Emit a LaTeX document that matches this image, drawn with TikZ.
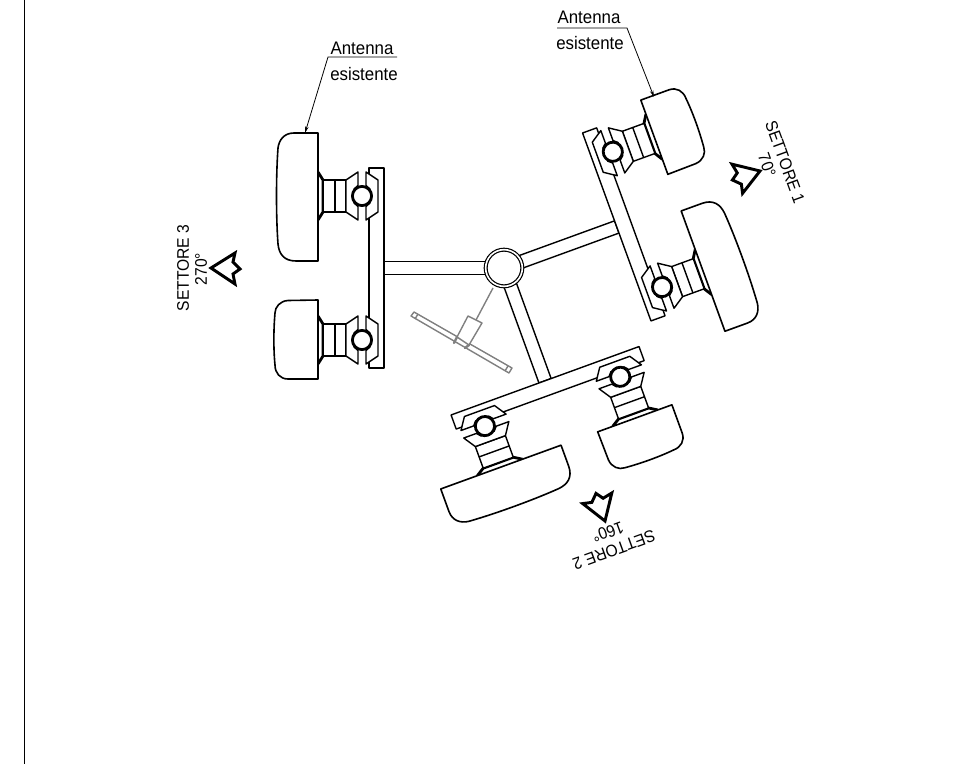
\documentclass[tikz,border=0pt]{standalone}
\usepackage{fontspec}
\setmainfont[FakeStretch=0.93]{Liberation Sans}
\usetikzlibrary{arrows.meta}
\tikzset{
  lbl/.style={inner sep=0pt,font=\fontsize{13.6}{15}\selectfont},
  smalllbl/.style={inner sep=0pt,font=\fontsize{12.6}{14}\selectfont},
  med/.style={line width=1.05pt,black,line join=round},
  panel/.style={line width=1.2pt,black,fill=white,line join=round},
  thick1/.style={line width=2.1pt,black,line join=round},
  grey1/.style={line width=1.05pt,black!50,line join=round},
  leader/.style={line width=0.6pt,black,-{Stealth[length=5pt,width=2.6pt]}},
  marker/.style={line width=2.2pt,black,line join=miter,miter limit=4},
}
% one bracket and neck, origin at the pole clamp ring
\newcommand{\clampunit}{%
  \draw[thick1] (-44,-24) -- (-39,-16) -- (-39,16) -- (-44,24);
  \draw[med,fill=white] (-39,-16) rectangle (-16,16);
  \draw[med] (-27,-16) -- (-27,16);
  \draw[med,fill=white] (-16,-16) -- (-4,-24) -- (-4,-10.5) -- (-8,-7) -- (-8,7) -- (-4,10.5) -- (-4,24) -- (-16,16) -- cycle;
  \draw[med,fill=white] (4,-24) -- (16,-16) -- (16,16) -- (4,24) -- (4,10.5) -- (8,7) -- (8,-7) -- (4,-10.5) -- cycle;
  \draw[thick1,fill=white] (0,0) circle (9.6);
}
\newcommand{\sectorarm}{%
  \draw[med,fill=white] (-120,-6.5) rectangle (-15,6.5);
  \draw[med,fill=white] (-135,-100) rectangle (-120,100);
  \begin{scope}[shift={(-142,-72)}]
    \clampunit
    \draw[panel] (-44,-63) -- (-68,-63) .. controls (-78,-63) and (-83,-56) .. (-84,-48)
      .. controls (-86,-20) and (-86,20) .. (-84,48)
      .. controls (-83,58) and (-78,65) .. (-66,65) -- (-44,65) -- cycle;
  \end{scope}
  \begin{scope}[shift={(-142,72)}]
    \clampunit
    \draw[panel] (-44,-40) -- (-74,-39.5) .. controls (-82,-39) and (-87,-33) .. (-87,-27)
      .. controls (-88.5,-10) and (-88.5,10) .. (-87,25)
      .. controls (-87,33) and (-82,39) .. (-74,39) -- (-44,39) -- cycle;
  \end{scope}
}
\newcommand{\markershape}{%
  \draw[marker] (0,0) -- (24,-15) -- (22,-6) -- (29,1) -- (22,6) -- (24,16) -- cycle;
}
\begin{document}
\begin{tikzpicture}[x=0.75pt,y=-0.75pt]
\useasboundingbox (0,0) rectangle (976,764);
\coordinate (bt) at (24,0);
\coordinate (bb) at (24,764);
\draw[line width=0.7pt] (bt) -- (bb);
\coordinate (mast) at (504,268);

% mount (grey)
\coordinate (m1) at (493,288);
\coordinate (m2) at (476,320);
\draw[grey1] (m1) -- (m2);
\draw[grey1,fill=white] (414,312) -- (512,368) -- (509,373) -- (411,316) -- cycle;
\draw[grey1] (418,314) -- (415,319);
\draw[grey1] (508,366) -- (505,371);
\draw[grey1,fill=white] (468,316) -- (482,323) -- (469,345) -- (457,337) -- cycle;
\draw[grey1,line width=1.8pt,line cap=round] (457,337) -- (454,343);
\draw[grey1,line width=1.8pt,line cap=round] (469,345) -- (465,348);

% the three sector arms
\foreach \a in {0,-160,110}{
  \begin{scope}[shift={(mast)},rotate=\a]
    \sectorarm
  \end{scope}
}
\node[circle,draw,line width=0.9pt,fill=white,minimum size=27.5pt,inner sep=0pt,double,double distance=1.2pt] (pole) at (mast) {};

% direction markers
\begin{scope}[shift={(211,268)},rotate=0]\markershape\end{scope}
\begin{scope}[shift={(760,171)},rotate=-160]\markershape\end{scope}
\begin{scope}[shift={(605,521)},rotate=110]\markershape\end{scope}

% sector labels
\node[smalllbl,rotate=90] (s3) at (183,268) {SETTORE 3};
\node[smalllbl,rotate=90] (a3) at (201,269) {270°};
\node[smalllbl,rotate=-70] (s1) at (785,162) {SETTORE 1};
\node[smalllbl,rotate=-70] (a1) at (767,165) {70°};
\node[smalllbl,rotate=200] (s2) at (614,550) {SETTORE 2};
\node[smalllbl,rotate=200] (a2) at (608,532) {160°};

% antenna callouts
\node[lbl] (an1) at (362,48) {Antenna};
\node[lbl] (es1) at (364,74) {esistente};
\coordinate (u1a) at (397,57);
\coordinate (u1b) at (328,57);
\coordinate (t1) at (305,133);
\draw[leader] (u1a) -- (u1b) -- (t1);
\node[lbl] (an2) at (589,17) {Antenna};
\node[lbl] (es2) at (590,43) {esistente};
\coordinate (u2a) at (557,28);
\coordinate (u2b) at (627,28);
\coordinate (t2) at (654,97);
\draw[leader] (u2a) -- (u2b) -- (t2);
\end{tikzpicture}
\end{document}
